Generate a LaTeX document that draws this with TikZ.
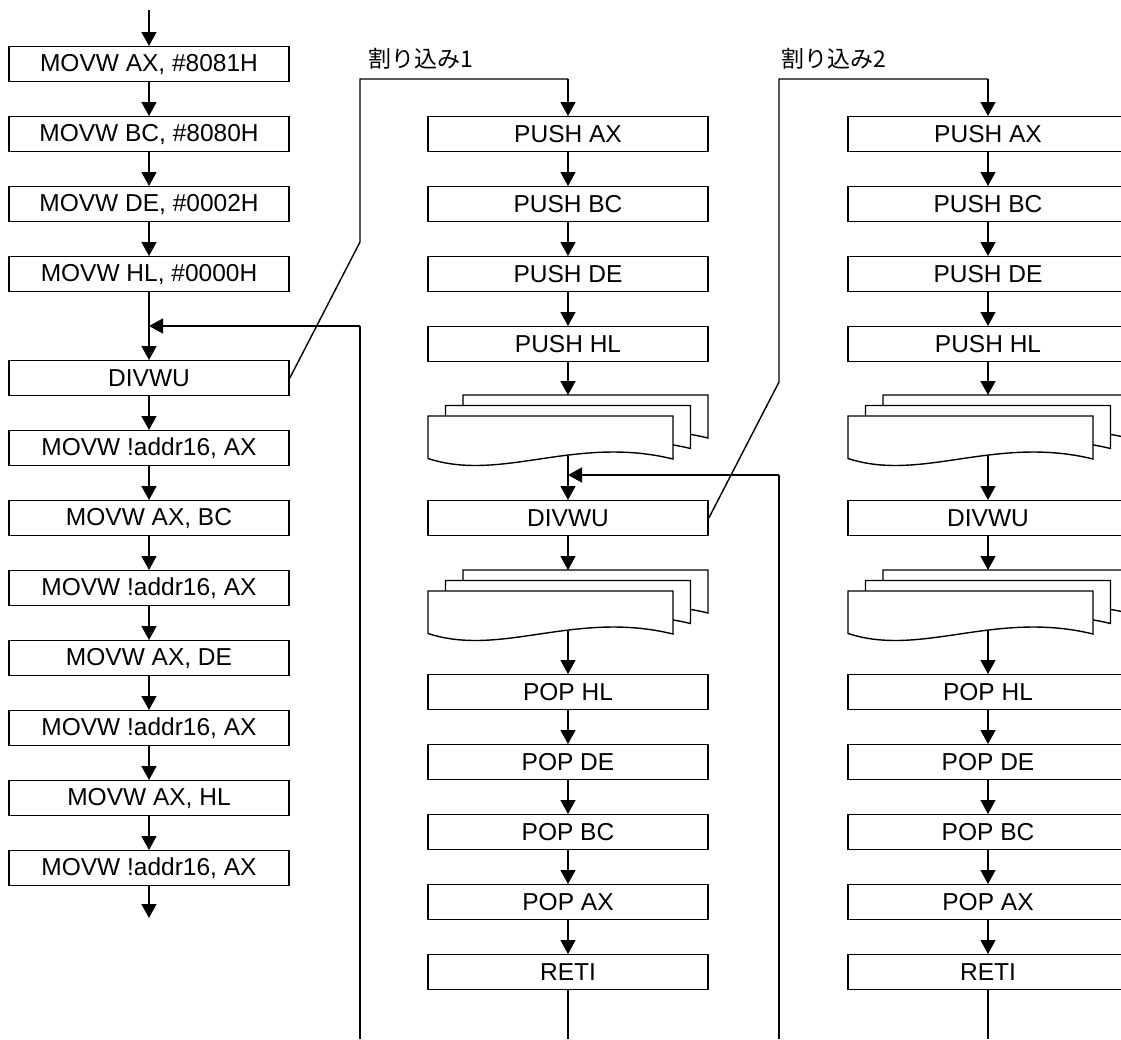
\documentclass[tikz,border=0pt]{standalone}
\usepackage{fontspec}
\setmainfont{Liberation Sans}
\newfontfamily\cjk{Noto Sans CJK JP}
\usetikzlibrary{arrows.meta}
\tikzset{
  lw/.style={line width=1.4pt},
  stepbox/.style={draw, lw, fill=white, minimum width=280pt, minimum height=35pt,
    inner sep=0pt, anchor=north, font=\fontsize{24.5}{28}\selectfont},
  flow/.style={lw, -{Triangle[length=14pt,width=15pt]}},
  plain/.style={lw},
  lbl/.style={font=\cjk\fontsize{23}{27}\selectfont, inner sep=0pt},
  docpage/.pic={
    \filldraw[fill=white, lw, line join=miter]
      (0,0) -- (245,0) -- (245,43)
      .. controls (147,19) and (73.5,66.5) .. (0,42.5) -- cycle;
  },
  docstack/.pic={
    \pic at (35,-21) {docpage};
    \pic at (17.5,-10.5) {docpage};
    \pic at (0,0) {docpage};
  }
}
\begin{document}
\begin{tikzpicture}[x=1pt,y=-1pt]
\useasboundingbox (0,0) rectangle (1121,1039);
\clip (0,0) rectangle (1121,1039);
\fill[white] (0,0) rectangle (1121,1039);

% ---------- left column ----------
\coordinate (lstart) at (149,10);
\node[stepbox] (l1)  at (149,46)  {MOVW AX, \#8081H};
\node[stepbox] (l2)  at (149,116) {MOVW BC, \#8080H};
\node[stepbox] (l3)  at (149,186) {MOVW DE, \#0002H};
\node[stepbox] (l4)  at (149,256) {MOVW HL, \#0000H};
\node[stepbox] (l5)  at (149,360) {DIVWU};
\node[stepbox] (l6)  at (149,430) {MOVW !addr16, AX};
\node[stepbox] (l7)  at (149,500) {MOVW AX, BC};
\node[stepbox] (l8)  at (149,570) {MOVW !addr16, AX};
\node[stepbox] (l9)  at (149,640) {MOVW AX, DE};
\node[stepbox] (l10) at (149,710) {MOVW !addr16, AX};
\node[stepbox] (l11) at (149,780) {MOVW AX, HL};
\node[stepbox] (l12) at (149,850) {MOVW !addr16, AX};
\coordinate (lend) at (149,918);
\coordinate (ljoin) at (149,326);

\draw[flow] (lstart) -- (l1.north);
\foreach \a/\b in {l1/l2,l2/l3,l3/l4,l5/l6,l6/l7,l7/l8,l8/l9,l9/l10,l10/l11,l11/l12}
  \draw[flow] (\a.south) -- (\b.north);
\draw[flow] (l4.south) -- (l5.north);
\draw[flow] (l12.south) -- (lend);

% ---------- middle column (interrupt 1) ----------
\node[stepbox] (m1) at (568,116) {PUSH AX};
\node[stepbox] (m2) at (568,186) {PUSH BC};
\node[stepbox] (m3) at (568,256) {PUSH DE};
\node[stepbox] (m4) at (568,326) {PUSH HL};
\pic at (428,416) {docstack};
\coordinate (mdocAtop) at (568,395);
\coordinate (mdocAbot) at (568,456);
\node[stepbox] (m5) at (568,500) {DIVWU};
\pic at (428,591) {docstack};
\coordinate (mdocBtop) at (568,570);
\coordinate (mdocBbot) at (568,631);
\node[stepbox] (m6) at (568,674) {POP HL};
\node[stepbox] (m7) at (568,744) {POP DE};
\node[stepbox] (m8) at (568,814) {POP BC};
\node[stepbox] (m9) at (568,884) {POP AX};
\node[stepbox] (m10) at (568,954) {RETI};
\coordinate (mend) at (568,1039);
\coordinate (mjoin) at (568,475);

\foreach \a/\b in {m1/m2,m2/m3,m3/m4,m6/m7,m7/m8,m8/m9,m9/m10}
  \draw[flow] (\a.south) -- (\b.north);
\draw[flow] (m4.south) -- (mdocAtop);
\draw[flow] (mdocAbot) -- (m5.north);
\draw[flow] (m5.south) -- (mdocBtop);
\draw[flow] (mdocBbot) -- (m6.north);
\draw[plain] (m10.south) -- (mend);

% ---------- right column (interrupt 2) ----------
\node[stepbox] (r1) at (988,116) {PUSH AX};
\node[stepbox] (r2) at (988,186) {PUSH BC};
\node[stepbox] (r3) at (988,256) {PUSH DE};
\node[stepbox] (r4) at (988,326) {PUSH HL};
\pic at (848,416) {docstack};
\coordinate (rdocAtop) at (988,395);
\coordinate (rdocAbot) at (988,456);
\node[stepbox] (r5) at (988,500) {DIVWU};
\pic at (848,591) {docstack};
\coordinate (rdocBtop) at (988,570);
\coordinate (rdocBbot) at (988,631);
\node[stepbox] (r6) at (988,674) {POP HL};
\node[stepbox] (r7) at (988,744) {POP DE};
\node[stepbox] (r8) at (988,814) {POP BC};
\node[stepbox] (r9) at (988,884) {POP AX};
\node[stepbox] (r10) at (988,954) {RETI};
\coordinate (rend) at (988,1039);

\foreach \a/\b in {r1/r2,r2/r3,r3/r4,r6/r7,r7/r8,r8/r9,r9/r10}
  \draw[flow] (\a.south) -- (\b.north);
\draw[flow] (r4.south) -- (rdocAtop);
\draw[flow] (rdocAbot) -- (r5.north);
\draw[flow] (r5.south) -- (rdocBtop);
\draw[flow] (rdocBbot) -- (r6.north);
\draw[plain] (r10.south) -- (rend);

% ---------- interrupt 1 ----------
\coordinate (i1a) at (360,242);
\coordinate (i1b) at (360,79);
\coordinate (i1c) at (568,79);
\draw[plain, line join=miter] (l5.east) -- (i1a) -- (i1b) -- (i1c);
\draw[flow] (i1c) -- (m1.north);
\node[lbl] (lab1) at (421,59) {割り込み1};
\coordinate (ret1a) at (360,1039);
\coordinate (ret1b) at (360,326);
\draw[plain] (ret1a) -- (ret1b);
\draw[flow] (ret1b) -- (ljoin);

% ---------- interrupt 2 ----------
\coordinate (i2a) at (779,382);
\coordinate (i2b) at (779,79);
\coordinate (i2c) at (988,79);
\draw[plain, line join=miter] (m5.east) -- (i2a) -- (i2b) -- (i2c);
\draw[flow] (i2c) -- (r1.north);
\node[lbl] (lab2) at (834,59) {割り込み2};
\coordinate (ret2a) at (779,1039);
\coordinate (ret2b) at (779,475);
\draw[plain] (ret2a) -- (ret2b);
\draw[flow] (ret2b) -- (mjoin);
\end{tikzpicture}
\end{document}
